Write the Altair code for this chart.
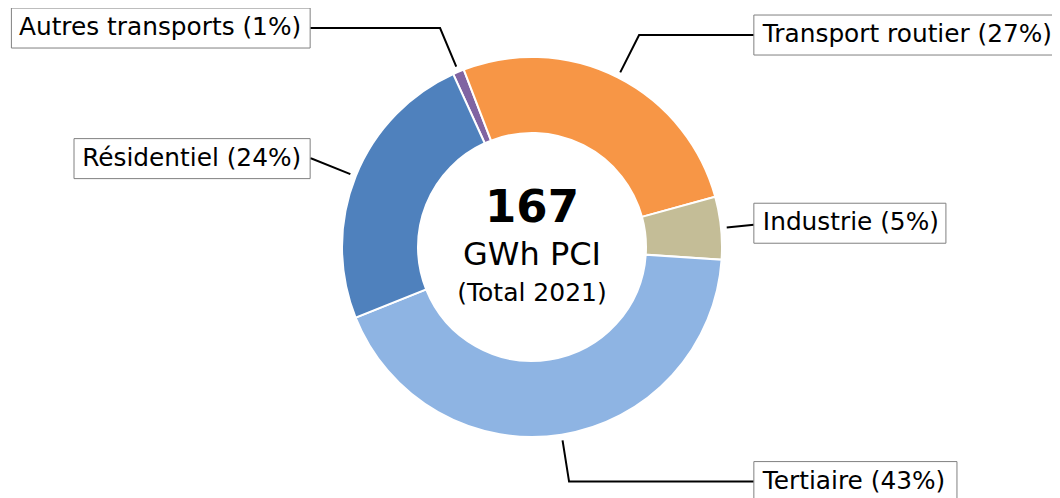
import math
import altair as alt
import pandas as pd

# ---------------- data ----------------
categories = ["Autres transports", "Transport routier", "Industrie", "Tertiaire", "Résidentiel"]
values = [1.6, 44.4, 8.9, 71.6, 40.5]          # GWh PCI, 2021
colors = ["#8064a2", "#f79646", "#c4bd97", "#8eb4e3", "#4f81bd"]
center_value = "167"
center_unit = "GWh PCI"
center_note = "(Total 2021)"

# ---------------- layout ----------------
W, H = 1044, 490
CX, CY = 524, 239          # donut centre inside the plot area (px)
R = 190.0                  # outer radius (px)
INNER = 0.6
START_DEG = -24.5          # clockwise from top
FONT = "DejaVu Sans"
LABEL_SIZE = 24.8
ELBOW_R = 1.25
START_R = 1.03
TEXT_X = 1.215
BOX_PAD = 9
BOX_PAD_FAR = 7
BOX_HALF_H = 20

# DejaVu Sans advance widths (1/2048 em) for box sizing
ADV = {'A': 1401, 'u': 1298, 't': 803, 'r': 842, 'e': 1260, 's': 1067, ' ': 651,
       'a': 1255, 'n': 1298, 'p': 1300, 'o': 1253, '(': 799, ')': 799, '%': 1946,
       'T': 1251, 'I': 604, 'd': 1300, 'i': 569, 'R': 1423, 'é': 1260, 'l': 569}


def text_px(s):
    return sum(ADV.get(c, 1303) for c in s) / 2048.0 * LABEL_SIZE


total = sum(values)
start = math.radians(START_DEG)

arc_df = pd.DataFrame({
    "cat": categories, "value": values, "idx": list(range(len(values))),
    "cx": 0.0, "cy": 0.0,
})

line_rows, lab_rows = [], []
cum = 0.0
for i, (c, v) in enumerate(zip(categories, values)):
    mid = start + 2 * math.pi * (cum + v / 2) / total
    cum += v
    s, co = math.sin(mid), math.cos(mid)
    side = 1 if s >= 0 else -1
    pct = round(v / total * 100)
    label = f"{c} ({pct}%)"
    ty = ELBOW_R * co
    box_edge = side * (TEXT_X - BOX_PAD / R)
    pts = [(START_R * s, START_R * co)]
    ex, ey = ELBOW_R * s, ELBOW_R * co
    if abs(ex) > abs(box_edge):
        t = box_edge / s
        pts.append((box_edge, t * co))
    else:
        pts.append((ex, ey))
        pts.append((box_edge, ey))
    for k, (px, py) in enumerate(pts):
        line_rows.append({"cat": c, "k": k, "lx": px, "ly": py})
    w = text_px(label)
    if side > 0:
        bx1, bx2 = TEXT_X - BOX_PAD / R, TEXT_X + (w + BOX_PAD_FAR) / R
    else:
        bx1, bx2 = -TEXT_X - (w + BOX_PAD_FAR) / R, -TEXT_X + BOX_PAD / R
    lab_rows.append({"cat": c, "label": label, "side": "R" if side > 0 else "L",
                     "tx": side * TEXT_X, "ty": ty,
                     "bx1": bx1, "bx2": bx2,
                     "by1": ty - BOX_HALF_H / R, "by2": ty + BOX_HALF_H / R})

line_df = pd.DataFrame(line_rows)
lab_df = pd.DataFrame(lab_rows)
ctr_df = pd.DataFrame({"cx": [0.0], "cy": [0.0]})

xs = alt.Scale(domain=[-CX / R, (W - CX) / R], nice=False, zero=False)
ys = alt.Scale(domain=[-(H - CY) / R, CY / R], nice=False, zero=False)

arcs = alt.Chart(arc_df).mark_arc(
    outerRadius=R, innerRadius=R * INNER, stroke="white", strokeWidth=2
).encode(
    x=alt.X("cx:Q", scale=xs, axis=None),
    y=alt.Y("cy:Q", scale=ys, axis=None),
    theta=alt.Theta("value:Q", stack=True,
                    scale=alt.Scale(range=[start, start + 2 * math.pi])),
    color=alt.Color("cat:N", scale=alt.Scale(domain=categories, range=colors), legend=None),
    order=alt.Order("idx:Q", sort="ascending"),
)

leaders = alt.Chart(line_df).mark_line(color="black", strokeWidth=2).encode(
    x=alt.X("lx:Q", scale=xs, axis=None),
    y=alt.Y("ly:Q", scale=ys, axis=None),
    detail="cat:N",
    order="k:Q",
)

boxes = alt.Chart(lab_df).mark_rect(fill="white", stroke="#808080", strokeWidth=1).encode(
    x=alt.X("bx1:Q", scale=xs, axis=None), x2="bx2:Q",
    y=alt.Y("by1:Q", scale=ys, axis=None), y2="by2:Q",
)

txt_r = alt.Chart(lab_df).transform_filter(alt.datum.side == "R").mark_text(
    align="left", baseline="middle", font=FONT, fontSize=LABEL_SIZE, color="black"
).encode(
    x=alt.X("tx:Q", scale=xs, axis=None), y=alt.Y("ty:Q", scale=ys, axis=None), text="label:N"
)
txt_l = alt.Chart(lab_df).transform_filter(alt.datum.side == "L").mark_text(
    align="right", baseline="middle", font=FONT, fontSize=LABEL_SIZE, color="black"
).encode(
    x=alt.X("tx:Q", scale=xs, axis=None), y=alt.Y("ty:Q", scale=ys, axis=None), text="label:N"
)


def center_text(t, size, weight, dy):
    return alt.Chart(ctr_df).mark_text(
        align="center", baseline="alphabetic", font=FONT, fontSize=size,
        fontWeight=weight, color="black", dy=dy, text=t
    ).encode(x=alt.X("cx:Q", scale=xs, axis=None), y=alt.Y("cy:Q", scale=ys, axis=None))


c1 = center_text(center_value, 45, "bold", -25.5)
c2 = center_text(center_unit, 32, "normal", 18)
c3 = center_text(center_note, 25, "normal", 53.5)

chart = alt.layer(arcs, leaders, boxes, txt_r, txt_l, c1, c2, c3).properties(
    width=W, height=H, padding=0, background="white",
    autosize=alt.AutoSizeParams(type="none"),
).configure_view(strokeWidth=0)

chart.save("out.html", embed_options={"renderer": "svg", "actions": False})
